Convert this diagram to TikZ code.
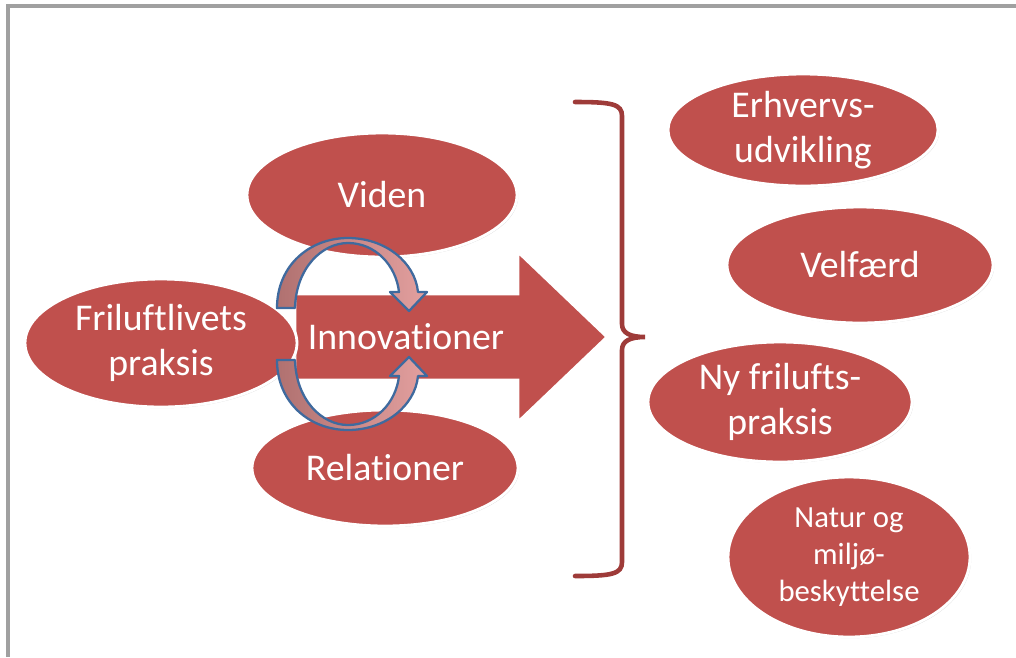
\documentclass[tikz,border=0pt]{standalone}
\usepackage{fontspec}
\setmainfont[Ligatures={NoCommon,NoContextual,NoRare}, RawFeature={-liga;-clig;-calt;-dlig}]{Carlito}
\usepackage{xcolor}
\usetikzlibrary{shapes.geometric, shadows}

\definecolor{boxred}{HTML}{C0504D}
\definecolor{bracered}{HTML}{9E3B39}
\definecolor{framegray}{HTML}{A0A0A0}
\definecolor{loopblue}{HTML}{3F6A9E}
\definecolor{loopdark}{HTML}{B07170}
\definecolor{looplight}{HTML}{E3A09F}

\tikzset{
  blob/.style={ellipse, fill=boxred, draw=white, line width=1.6pt, inner sep=0pt,
    text=white, align=center, font=\fontsize{21.5}{25.5}\selectfont,
    drop shadow={opacity=0.3, shadow xshift=0.7pt, shadow yshift=-0.7pt}},
  looparrow/.style={draw=loopblue, line width=1.3pt, left color=loopdark,
    right color=looplight, line join=round},
}

\begin{document}
\begin{tikzpicture}[x=0.02cm, y=-0.02cm]
        \useasboundingbox (0,0) rectangle (1016,657);
        \draw[framegray, line width=1.8pt] (8,657) -- (8,6) -- (1016,6);

        \node[blob, minimum width=5.4cm, minimum height=2.48cm] at (382,195) (viden) {Viden};
        \node[blob, minimum width=5.32cm, minimum height=2.32cm] at (385,468) (relationer) {Relationer};

        % big arrow
        \draw[fill=boxred, draw=white, line width=1.6pt, line join=miter]
            (295,294) -- (518,294) -- (518,252) -- (607,337) -- (518,422) -- (518,380) -- (295,380) -- cycle;

        \node[blob, minimum width=5.44cm, minimum height=2.56cm] at (161,343) (friluft) {Friluftlivets\\praksis};

        % loop arrows
        \draw[looparrow] (277,308) .. controls (277,265) and (310,238) .. (348,238)
            .. controls (385,238) and (415,262) .. (418,292) -- (427,292) -- (409,311) -- (390,292) -- (399,292)
            .. controls (396,265) and (375,243) .. (348,243)
            .. controls (322,243) and (296,268) .. (295,308) -- cycle;
        \draw[looparrow] (277,360) .. controls (277,403) and (310,430) .. (348,430)
            .. controls (385,430) and (415,406) .. (418,376) -- (427,376) -- (409,357) -- (390,376) -- (399,376)
            .. controls (396,403) and (375,425) .. (348,425)
            .. controls (322,425) and (296,400) .. (295,360) -- cycle;

        \node[text=white, font=\fontsize{21.5}{25.5}\selectfont] at (406,337) (innov) {Innovationer};

        % brace
        \draw[bracered, line width=2.6pt, line cap=round]
            (575,102) .. controls (612,102) and (622,104) .. (622,116) -- (622,324)
            .. controls (622,333) and (630,337) .. (645,337)
            .. controls (630,337) and (622,341) .. (622,350) -- (622,562)
            .. controls (622,574) and (612,576) .. (575,576);

        \node[blob, minimum width=5.4cm, minimum height=2.24cm] at (803,130) (erhverv) {Erhvervs-\\udvikling};
        \node[blob, minimum width=5.32cm, minimum height=2.32cm] at (860,265) (velfaerd) {Velfærd};
        \node[blob, minimum width=5.28cm, minimum height=2.4cm] at (780,402) (nyfri) {Ny frilufts-\\praksis};
        \node[blob, minimum width=4.84cm, minimum height=3.2cm, font=\fontsize{17.5}{21}\selectfont] at (849,557) (natur) {Natur og\\miljø-\\beskyttelse};
    \end{tikzpicture}
\end{document}
